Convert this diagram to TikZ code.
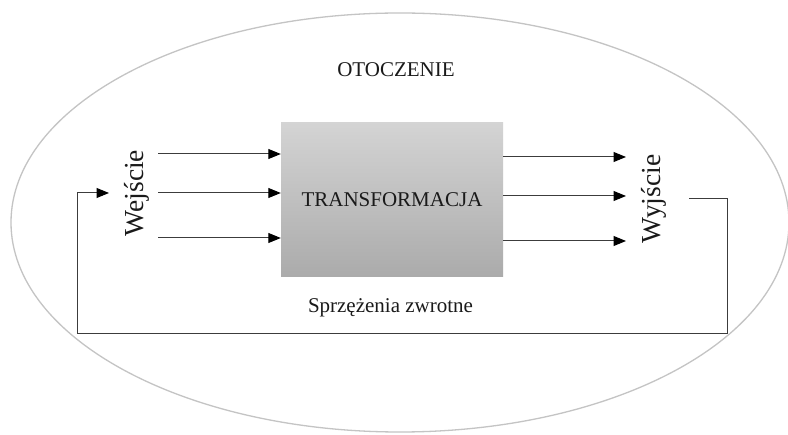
\documentclass[tikz,border=0pt]{standalone}
\usepackage{fontspec}
\setmainfont{Liberation Serif}
\usetikzlibrary{arrows.meta}
\definecolor{ellgray}{HTML}{C4C4C4}
\definecolor{linegray}{HTML}{3C3C3C}
\definecolor{txt}{HTML}{1A1A1A}
\tikzset{
  lbl/.style={font=\fontsize{21}{25}\selectfont, text=txt, inner sep=0pt},
  biglbl/.style={font=\fontsize{27.5}{32}\selectfont, text=txt, inner sep=0pt, rotate=90},
  arr/.style={draw=linegray, line width=1pt, -{Triangle[length=12.5pt,width=10pt,color=black,fill=black]}},
  box/.style={minimum width=222pt, minimum height=154pt, inner sep=0pt,
    top color=black!17, bottom color=black!33, draw=none,
    font=\fontsize{21}{25}\selectfont, text=txt}
}
\begin{document}
\begin{tikzpicture}[x=1pt,y=-1pt]
\useasboundingbox (0,0) rectangle (788,435);
\fill[white] (0,0) rectangle (788,435);
% environment ellipse
\draw[ellgray, line width=1.3pt] (400,222.5) ellipse [x radius=389, y radius=209.5];
\node[lbl] (env) at (396,69.5) {OTOCZENIE};
% transformation box
\node[box] (T) at (392,200) {TRANSFORMACJA};
% labels
\node[biglbl] (we) at (137,193) {Wejście};
\node[biglbl] (wy) at (654,199) {Wyjście};
\node[lbl, anchor=base] (fbl) at (390.5,313) {Sprzężenia zwrotne};
% input arrows
\coordinate (l1) at (158,154);
\coordinate (l2) at (158,193);
\coordinate (l3) at (158,238);
\draw[arr] (l1) -- (l1 -| T.west);
\draw[arr] (l2) -- (l2 -| T.west);
\draw[arr] (l3) -- (l3 -| T.west);
% output arrows
\coordinate (r1) at (626,157);
\coordinate (r2) at (626,196);
\coordinate (r3) at (626,241);
\draw[arr] (r1 -| T.east) -- (r1);
\draw[arr] (r2 -| T.east) -- (r2);
\draw[arr] (r3 -| T.east) -- (r3);
% feedback loop
\coordinate (f0) at (689,199);
\coordinate (f1) at (727,199);
\coordinate (f2) at (727,334);
\coordinate (f3) at (77,334);
\coordinate (f4) at (77,193);
\coordinate (f5) at (109,193);
\draw[arr] (f0) -- (f1) -- (f2) -- (f3) -- (f4) -- (f5);
\end{tikzpicture}
\end{document}
